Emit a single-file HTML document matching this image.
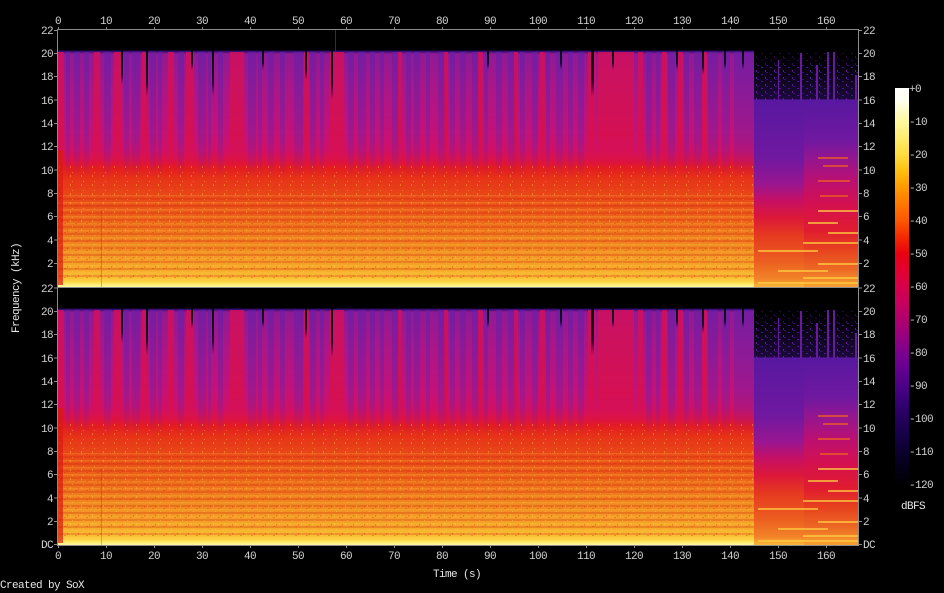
<!DOCTYPE html>
<html><head><meta charset="utf-8"><style>
html,body{margin:0;padding:0;background:#000;}
svg{display:block;}
text{font-family:"Liberation Mono",monospace;font-size:11px;fill:#d2d2d2;letter-spacing:-0.6px;}
</style></head><body>
<svg width="944" height="593" viewBox="0 0 944 593" xmlns="http://www.w3.org/2000/svg">
<defs>
<linearGradient id="gMain" gradientUnits="userSpaceOnUse" x1="0" y1="0" x2="0" y2="257">
<stop offset="0" stop-color="#000"/>
<stop offset="0.078" stop-color="#000"/>
<stop offset="0.082" stop-color="#2a0c6a"/>
<stop offset="0.093" stop-color="#901a94"/>
<stop offset="0.233" stop-color="#ac1686"/>
<stop offset="0.389" stop-color="#c2127a"/>
<stop offset="0.467" stop-color="#d01066"/>
<stop offset="0.51" stop-color="#dc1244"/>
<stop offset="0.537" stop-color="#e41c20"/>
<stop offset="0.58" stop-color="#e63418"/>
<stop offset="0.68" stop-color="#ea5218"/>
<stop offset="0.78" stop-color="#ee741c"/>
<stop offset="0.875" stop-color="#f29424"/>
<stop offset="0.934" stop-color="#f6aa2a"/>
<stop offset="0.965" stop-color="#f8c034"/>
<stop offset="0.981" stop-color="#fcd848"/>
<stop offset="0.992" stop-color="#fff07a"/>
<stop offset="1" stop-color="#fff6a0"/>
</linearGradient>
<linearGradient id="gTA" gradientUnits="userSpaceOnUse" x1="0" y1="0" x2="0" y2="257">
<stop offset="0" stop-color="#000"/>
<stop offset="0.1" stop-color="#000"/>
<stop offset="0.268" stop-color="#1c0a3c"/>
<stop offset="0.272" stop-color="#5818a0"/>
<stop offset="0.5" stop-color="#7018a0"/>
<stop offset="0.6" stop-color="#9a1690"/>
<stop offset="0.66" stop-color="#c41066"/>
<stop offset="0.73" stop-color="#dc1838"/>
<stop offset="0.8" stop-color="#e63a20"/>
<stop offset="0.9" stop-color="#ec5e20"/>
<stop offset="0.97" stop-color="#f28428"/>
<stop offset="1" stop-color="#fcb83c"/>
</linearGradient>
<linearGradient id="gTB" gradientUnits="userSpaceOnUse" x1="0" y1="0" x2="0" y2="257">
<stop offset="0" stop-color="#000"/>
<stop offset="0.1" stop-color="#000"/>
<stop offset="0.268" stop-color="#1c0a3c"/>
<stop offset="0.272" stop-color="#5818a0"/>
<stop offset="0.43" stop-color="#7018a0"/>
<stop offset="0.5" stop-color="#941690"/>
<stop offset="0.58" stop-color="#b81074"/>
<stop offset="0.68" stop-color="#d41050"/>
<stop offset="0.78" stop-color="#e01c30"/>
<stop offset="0.85" stop-color="#e6401e"/>
<stop offset="0.93" stop-color="#ec6824"/>
<stop offset="1" stop-color="#f6a030"/>
</linearGradient>
<linearGradient id="gP" x1="0" y1="0" x2="0" y2="1">
<stop offset="0" stop-color="#6a1ea8" stop-opacity="0.7"/>
<stop offset="0.7" stop-color="#7a1ea0" stop-opacity="0.45"/>
<stop offset="1" stop-color="#7a1ea0" stop-opacity="0"/>
</linearGradient>
<linearGradient id="gR" x1="0" y1="0" x2="0" y2="1">
<stop offset="0" stop-color="#d80e58" stop-opacity="0.8"/>
<stop offset="0.7" stop-color="#e0103a" stop-opacity="0.6"/>
<stop offset="1" stop-color="#e0103a" stop-opacity="0"/>
</linearGradient>
<linearGradient id="gN" x1="0" y1="0" x2="0" y2="1">
<stop offset="0" stop-color="#000" stop-opacity="1"/>
<stop offset="0.7" stop-color="#100428" stop-opacity="0.9"/>
<stop offset="1" stop-color="#2a0c60" stop-opacity="0"/>
</linearGradient>
<linearGradient id="gCB" x1="0" y1="0" x2="0" y2="1">
<stop offset="0" stop-color="#ffffff"/>
<stop offset="0.03" stop-color="#fffff0"/>
<stop offset="0.083" stop-color="#fff8a0"/>
<stop offset="0.125" stop-color="#ffec70"/>
<stop offset="0.167" stop-color="#ffdc40"/>
<stop offset="0.208" stop-color="#ffc010"/>
<stop offset="0.25" stop-color="#ff9a00"/>
<stop offset="0.292" stop-color="#ff7800"/>
<stop offset="0.333" stop-color="#ff5800"/>
<stop offset="0.375" stop-color="#f42a00"/>
<stop offset="0.417" stop-color="#ea0010"/>
<stop offset="0.458" stop-color="#e20030"/>
<stop offset="0.5" stop-color="#d8004a"/>
<stop offset="0.542" stop-color="#c6005e"/>
<stop offset="0.583" stop-color="#b0006e"/>
<stop offset="0.625" stop-color="#980080"/>
<stop offset="0.667" stop-color="#7c008e"/>
<stop offset="0.708" stop-color="#640090"/>
<stop offset="0.75" stop-color="#4c0086"/>
<stop offset="0.792" stop-color="#360074"/>
<stop offset="0.833" stop-color="#22005c"/>
<stop offset="0.875" stop-color="#160046"/>
<stop offset="0.917" stop-color="#0c002e"/>
<stop offset="0.958" stop-color="#040016"/>
<stop offset="1" stop-color="#000000"/>
</linearGradient>
<pattern id="pH" patternUnits="userSpaceOnUse" width="800" height="7">
<rect x="0" y="0" width="800" height="2" fill="#d01c10" opacity="0.25"/>
<rect x="0" y="4" width="800" height="1.5" fill="#ffd040" opacity="0.22"/>
</pattern>
<pattern id="pT" patternUnits="userSpaceOnUse" width="11" height="9">
<rect x="1" y="1" width="1" height="2" fill="#ffd848" opacity="0.35"/>
<rect x="6" y="4" width="2" height="1" fill="#d81c10" opacity="0.3"/>
<rect x="3" y="7" width="1" height="1" fill="#ffe060" opacity="0.35"/>
<rect x="9" y="2" width="1" height="2" fill="#e02a10" opacity="0.3"/>
</pattern>
<pattern id="pS" patternUnits="userSpaceOnUse" width="9" height="7">
<rect x="1" y="2" width="2" height="1" fill="#5a1a9a"/>
<rect x="5" y="5" width="1" height="2" fill="#7020a8"/>
<rect x="6" y="0" width="2" height="1" fill="#3a1488"/>
</pattern>
<g id="ch">
<rect x="0" y="0" width="696" height="257" fill="url(#gMain)"/>
<rect x="696" y="0" width="50" height="257" fill="url(#gTA)"/>
<rect x="746" y="0" width="54" height="257" fill="url(#gTB)"/>
<g fill="url(#gP)">
<rect x="8" y="22" width="4" height="125"/><rect x="16" y="22" width="6" height="125"/><rect x="26" y="22" width="5" height="125"/>
<rect x="46" y="22" width="7" height="125"/><rect x="66" y="22" width="5" height="125"/><rect x="74" y="22" width="8" height="125"/>
<rect x="92" y="22" width="6" height="125"/><rect x="100" y="22" width="4" height="125"/><rect x="120" y="22" width="6" height="125"/>
<rect x="140" y="22" width="8" height="125"/><rect x="150" y="22" width="3" height="125"/><rect x="160" y="22" width="5" height="125"/>
<rect x="190" y="22" width="8" height="125"/><rect x="200" y="22" width="4" height="125"/><rect x="210" y="22" width="6" height="125"/>
<rect x="222" y="22" width="5" height="125"/><rect x="236" y="22" width="9" height="125"/><rect x="252" y="22" width="6" height="125"/>
<rect x="262" y="22" width="4" height="125"/><rect x="290" y="22" width="6" height="125"/><rect x="300" y="22" width="8" height="125"/>
<rect x="312" y="22" width="5" height="125"/><rect x="322" y="22" width="4" height="125"/><rect x="334" y="22" width="7" height="125"/>
<rect x="348" y="22" width="5" height="125"/><rect x="356" y="22" width="6" height="125"/><rect x="368" y="22" width="4" height="125"/>
<rect x="380" y="22" width="8" height="125"/><rect x="392" y="22" width="5" height="125"/><rect x="402" y="22" width="6" height="125"/>
<rect x="414" y="22" width="7" height="125"/><rect x="426" y="22" width="4" height="125"/><rect x="438" y="22" width="6" height="125"/>
<rect x="450" y="22" width="8" height="125"/><rect x="462" y="22" width="5" height="125"/><rect x="474" y="22" width="6" height="125"/>
<rect x="488" y="22" width="4" height="125"/><rect x="498" y="22" width="7" height="125"/><rect x="510" y="22" width="5" height="125"/>
<rect x="520" y="22" width="6" height="125"/><rect x="588" y="22" width="6" height="125"/><rect x="598" y="22" width="4" height="125"/>
<rect x="610" y="22" width="7" height="125"/><rect x="626" y="22" width="5" height="125"/><rect x="636" y="22" width="8" height="125"/>
<rect x="650" y="22" width="10" height="125"/><rect x="664" y="22" width="8" height="125"/><rect x="676" y="22" width="12" height="125"/>
<rect x="688" y="22" width="8" height="125"/>
</g>
<g fill="url(#gR)">
<rect x="0" y="22" width="6" height="118"/><rect x="36" y="22" width="6" height="118"/><rect x="56" y="22" width="8" height="118"/>
<rect x="84" y="22" width="5" height="118"/><rect x="110" y="22" width="6" height="118"/><rect x="128" y="22" width="8" height="118"/>
<rect x="172" y="22" width="14" height="118"/><rect x="246" y="22" width="5" height="118"/><rect x="272" y="22" width="14" height="118"/>
<rect x="340" y="22" width="4" height="118"/><rect x="386" y="22" width="4" height="118"/><rect x="420" y="22" width="5" height="118"/>
<rect x="456" y="22" width="4" height="118"/><rect x="482" y="22" width="5" height="118"/><rect x="530" y="22" width="8" height="118"/>
<rect x="540" y="22" width="36" height="118"/><rect x="580" y="22" width="5" height="118"/><rect x="604" y="22" width="5" height="118"/>
<rect x="620" y="22" width="5" height="118"/><rect x="644" y="22" width="5" height="118"/>
</g>
<g fill="url(#gN)">
<rect x="63" y="18" width="2" height="37"/><rect x="88" y="18" width="2" height="49"/><rect x="133" y="18" width="2" height="22"/>
<rect x="154" y="18" width="2" height="49"/><rect x="204" y="18" width="2" height="22"/><rect x="247" y="18" width="2" height="32"/>
<rect x="273" y="18" width="2" height="52"/><rect x="429" y="18" width="2" height="22"/><rect x="502" y="18" width="2" height="22"/>
<rect x="533" y="18" width="3" height="49"/><rect x="554" y="18" width="2" height="22"/><rect x="618" y="18" width="2" height="22"/>
<rect x="644" y="18" width="2" height="27"/><rect x="666" y="18" width="2" height="22"/><rect x="684" y="18" width="2" height="22"/>
</g>
<rect x="0" y="165" width="696" height="85" fill="url(#pH)"/>
<rect x="0" y="135" width="696" height="118" fill="url(#pT)"/>
<rect x="0" y="120" width="5" height="135" fill="#d81a10" opacity="0.7"/>
<rect x="43" y="180" width="1" height="77" fill="#d82010" opacity="0.35"/>
<rect x="696" y="35" width="104" height="35" fill="url(#pS)" opacity="0.8"/>
<rect x="696" y="22" width="104" height="13" fill="url(#pS)" opacity="0.4"/>
<g fill="#6a1aa0">
<rect x="742" y="23" width="2" height="47"/><rect x="769" y="22" width="2" height="48"/><rect x="775" y="22" width="2" height="48"/>
<rect x="797" y="45" width="2" height="25"/><rect x="720" y="30" width="1" height="40"/><rect x="758" y="35" width="2" height="35"/>
</g>
<g fill="#f06020" opacity="0.7">
<rect x="760" y="127" width="30" height="2"/><rect x="765" y="135" width="25" height="2"/><rect x="760" y="150" width="32" height="2"/><rect x="762" y="165" width="28" height="2"/>
</g>
<g fill="#ffd040" opacity="0.7">
<rect x="760" y="180" width="40" height="2"/><rect x="750" y="192" width="30" height="2"/><rect x="770" y="202" width="30" height="2"/>
<rect x="745" y="212" width="55" height="2"/><rect x="700" y="220" width="60" height="2"/><rect x="760" y="233" width="40" height="2"/>
<rect x="720" y="240" width="50" height="2"/><rect x="745" y="247" width="55" height="2"/><rect x="700" y="252" width="100" height="2"/>
</g>
</g>
</defs>
<rect width="944" height="593" fill="#000"/>
<use href="#ch" transform="translate(58,30)"/>
<use href="#ch" transform="translate(58,288)"/>
<rect x="335" y="30" width="1" height="21" fill="#2a20a0"/>
<rect x="57.5" y="29.5" width="801" height="516" fill="none" stroke="#8c8c8c" stroke-width="1"/>
<line x1="57" y1="287.5" x2="858" y2="287.5" stroke="#8c8c8c" stroke-width="1"/>
<path stroke="#8c8c8c" stroke-width="1" d="M58.5 27V29M106.5 27V29M154.5 27V29M202.5 27V29M250.5 27V29M298.5 27V29M346.5 27V29M394.5 27V29M442.5 27V29M490.5 27V29M538.5 27V29M586.5 27V29M634.5 27V29M682.5 27V29M730.5 27V29M778.5 27V29M826.5 27V29
M58.5 546V548M106.5 546V548M154.5 546V548M202.5 546V548M250.5 546V548M298.5 546V548M346.5 546V548M394.5 546V548M442.5 546V548M490.5 546V548M538.5 546V548M586.5 546V548M634.5 546V548M682.5 546V548M730.5 546V548M778.5 546V548M826.5 546V548"/>
<path stroke="#8c8c8c" stroke-width="1" d="M54 30.5H57M54 53.5H57M54 76.5H57M54 100H57M54 123.5H57M54 146.5H57M54 170H57M54 193.5H57M54 216.5H57M54 240H57M54 263.5H57
M54 288H57M54 311.5H57M54 334.5H57M54 358H57M54 381.5H57M54 404.5H57M54 428H57M54 451.5H57M54 474.5H57M54 498H57M54 521.5H57M54 544.5H57
M859 30.5H862M859 53.5H862M859 76.5H862M859 100H862M859 123.5H862M859 146.5H862M859 170H862M859 193.5H862M859 216.5H862M859 240H862M859 263.5H862
M859 288H862M859 311.5H862M859 334.5H862M859 358H862M859 381.5H862M859 404.5H862M859 428H862M859 451.5H862M859 474.5H862M859 498H862M859 521.5H862M859 544.5H862"/>
<g text-anchor="middle">
<text x="58" y="24">0</text><text x="106" y="24">10</text><text x="154" y="24">20</text><text x="202" y="24">30</text>
<text x="250" y="24">40</text><text x="298" y="24">50</text><text x="346" y="24">60</text><text x="394" y="24">70</text>
<text x="442" y="24">80</text><text x="490" y="24">90</text><text x="538" y="24">100</text><text x="586" y="24">110</text>
<text x="634" y="24">120</text><text x="682" y="24">130</text><text x="730" y="24">140</text><text x="778" y="24">150</text>
<text x="826" y="24">160</text>
<text x="58" y="559">0</text><text x="106" y="559">10</text><text x="154" y="559">20</text><text x="202" y="559">30</text>
<text x="250" y="559">40</text><text x="298" y="559">50</text><text x="346" y="559">60</text><text x="394" y="559">70</text>
<text x="442" y="559">80</text><text x="490" y="559">90</text><text x="538" y="559">100</text><text x="586" y="559">110</text>
<text x="634" y="559">120</text><text x="682" y="559">130</text><text x="730" y="559">140</text><text x="778" y="559">150</text>
<text x="826" y="559">160</text>
</g>
<g text-anchor="end">
<text x="53" y="34">22</text><text x="53" y="57">20</text><text x="53" y="80">18</text><text x="53" y="104">16</text>
<text x="53" y="127">14</text><text x="53" y="150">12</text><text x="53" y="174">10</text><text x="53" y="197">8</text>
<text x="53" y="220">6</text><text x="53" y="244">4</text><text x="53" y="267">2</text>
<text x="53" y="292">22</text><text x="53" y="315">20</text><text x="53" y="338">18</text><text x="53" y="362">16</text>
<text x="53" y="385">14</text><text x="53" y="408">12</text><text x="53" y="432">10</text><text x="53" y="455">8</text>
<text x="53" y="478">6</text><text x="53" y="502">4</text><text x="53" y="525">2</text><text x="53" y="548">DC</text>
</g>
<g>
<text x="863" y="34">22</text><text x="863" y="57">20</text><text x="863" y="80">18</text><text x="863" y="104">16</text>
<text x="863" y="127">14</text><text x="863" y="150">12</text><text x="863" y="174">10</text><text x="863" y="197">8</text>
<text x="863" y="220">6</text><text x="863" y="244">4</text><text x="863" y="267">2</text>
<text x="863" y="292">22</text><text x="863" y="315">20</text><text x="863" y="338">18</text><text x="863" y="362">16</text>
<text x="863" y="385">14</text><text x="863" y="408">12</text><text x="863" y="432">10</text><text x="863" y="455">8</text>
<text x="863" y="478">6</text><text x="863" y="502">4</text><text x="863" y="525">2</text><text x="863" y="548">DC</text>
</g>
<rect x="895" y="88" width="14" height="397" fill="url(#gCB)"/>
<g>
<text x="909" y="92">+0</text><text x="909" y="125">-10</text><text x="909" y="158">-20</text><text x="909" y="191">-30</text>
<text x="909" y="224">-40</text><text x="909" y="257">-50</text><text x="909" y="290">-60</text><text x="909" y="323">-70</text>
<text x="909" y="356">-80</text><text x="909" y="389">-90</text><text x="909" y="422">-100</text><text x="909" y="455">-110</text>
<text x="909" y="488">-120</text>
</g>
<text x="901" y="509" style="fill:#e6e6e6">dBFS</text>
<text x="457" y="577" text-anchor="middle" style="fill:#e6e6e6">Time (s)</text>
<text x="0" y="588" style="fill:#e6e6e6">Created by SoX</text>
<text transform="translate(19,288) rotate(-90)" text-anchor="middle" style="fill:#e6e6e6">Frequency (kHz)</text>
</svg>
</body></html>
